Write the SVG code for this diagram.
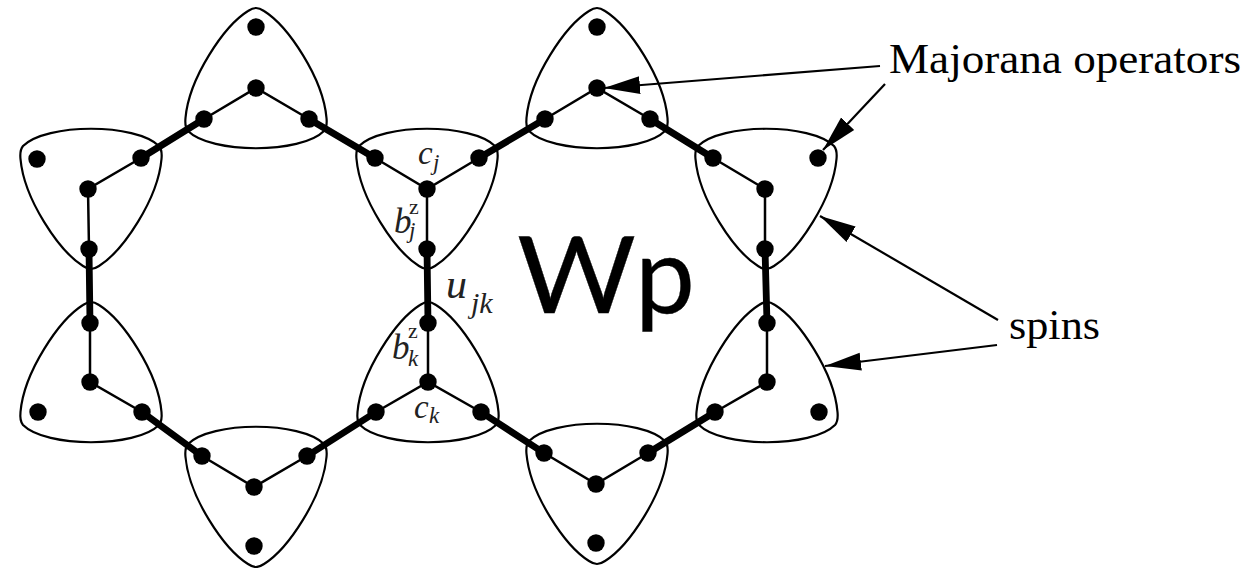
<svg xmlns="http://www.w3.org/2000/svg" width="1250" height="568" viewBox="0 0 1250 568">
<style>
.s{fill:none;stroke:#000;stroke-width:2.2}
.b{stroke:#000;stroke-width:2.5;fill:none}
.t{stroke:#000;stroke-width:6.8;fill:none}
.a{stroke:#000;stroke-width:2.2;fill:none}
.l{font-family:"Liberation Serif",serif;fill:#000}
.i{font-family:"Liberation Serif",serif;font-style:italic;fill:#222}
.w{font-family:Lato,sans-serif;font-size:107px;fill:#000;stroke:#000;stroke-width:.3}
</style>
<defs>
<path id="dn" class="s" d="M0 80C3 80 5 79 8 77C32 62 67 10 70.500 -30C71 -35 70.500 -40 68 -43C45 -66 -45 -66 -68 -43C-70.500 -40 -71 -35 -70.500 -30C-67 10 -32 62 -8 77C-5 79 -3 80 0 80Z"/>
<path id="up" class="s" d="M0 -80C3 -80 5 -79 8 -77C32 -62 67 -10 70.500 30C71 35 70.500 40 68 43C45 66 -45 66 -68 43C-70.500 40 -71 35 -70.500 30C-67 -10 -32 -62 -8 -77C-5 -79 -3 -80 0 -80Z"/>
<circle id="d" r="8.7" fill="#000"/>
<marker id="ah" markerUnits="userSpaceOnUse" markerWidth="38" markerHeight="22" refX="36" refY="11" orient="auto"><path d="M0 2L36 11L0 20Z" fill="#000"/></marker>
</defs>
<g id="connectors">
<path class="b" d="M204 119L256 88L309 119"/>
<path class="b" d="M545 119L597 88L650 119"/>
<path class="b" d="M375 158L427 189L479 158M427 189L427 249"/>
<path class="b" d="M141 158L88 189L89 249"/>
<path class="b" d="M713 158L765 189L765 249"/>
<path class="b" d="M90 323L90 382L142 412"/>
<path class="b" d="M428 323L428 382M376 412L428 382L481 412"/>
<path class="b" d="M767 323L767 382L715 412"/>
<path class="b" d="M202 456L254 487L307 456"/>
<path class="b" d="M544 453L596 484L648 453"/>
<path class="t" d="M141 158L204 119M309 119L375 158M479 158L545 119M650 119L713 158"/>
<path class="t" d="M89 249L90 323M427 249L428 323M765 249L767 323"/>
<path class="t" d="M142 412L202 456M307 456L376 412M481 412L544 453M648 453L715 412"/>
<path class="a" marker-end="url(#ah)" d="M880 66L604 88"/>
<path class="a" marker-end="url(#ah)" d="M885 84L823 150"/>
<path class="a" marker-end="url(#ah)" d="M998 320L820 216"/>
<path class="a" marker-end="url(#ah)" d="M997 345L825 366"/>
</g>
<g id="spin1"><use href="#up" x="256" y="88"/><use href="#d" x="256" y="27"/><use href="#d" x="256" y="88"/><use href="#d" x="204" y="119"/><use href="#d" x="309" y="119"/></g>
<g id="spin2"><use href="#up" x="597" y="88"/><use href="#d" x="597" y="27"/><use href="#d" x="597" y="88"/><use href="#d" x="545" y="119"/><use href="#d" x="650" y="119"/></g>
<g id="spin3"><use href="#dn" x="91" y="189"/><use href="#d" x="37" y="159"/><use href="#d" x="88" y="189"/><use href="#d" x="141" y="158"/><use href="#d" x="89" y="249"/></g>
<g id="spin4"><use href="#dn" x="427" y="189"/><use href="#d" x="427" y="189"/><use href="#d" x="375" y="158"/><use href="#d" x="479" y="158"/><use href="#d" x="427" y="249"/></g>
<g id="spin5"><use href="#dn" x="766" y="189"/><use href="#d" x="765" y="189"/><use href="#d" x="713" y="158"/><use href="#d" x="818" y="158"/><use href="#d" x="765" y="249"/></g>
<g id="spin6"><use href="#up" x="91" y="382"/><use href="#d" x="90" y="323"/><use href="#d" x="90" y="382"/><use href="#d" x="142" y="412"/><use href="#d" x="38" y="412"/></g>
<g id="spin7"><use href="#up" x="428" y="382"/><use href="#d" x="428" y="323"/><use href="#d" x="428" y="382"/><use href="#d" x="376" y="412"/><use href="#d" x="481" y="412"/></g>
<g id="spin8"><use href="#up" x="767" y="382"/><use href="#d" x="767" y="323"/><use href="#d" x="767" y="382"/><use href="#d" x="715" y="412"/><use href="#d" x="819" y="412"/></g>
<g id="spin9"><use href="#dn" x="256" y="487"/><use href="#d" x="254" y="487"/><use href="#d" x="202" y="456"/><use href="#d" x="307" y="456"/><use href="#d" x="254" y="546"/></g>
<g id="spin10"><use href="#dn" x="597" y="484"/><use href="#d" x="596" y="484"/><use href="#d" x="544" y="453"/><use href="#d" x="648" y="453"/><use href="#d" x="596" y="543"/></g>
<g id="labels">
<text class="i" x="418" y="164" font-size="33">c</text><text class="i" x="433" y="170" font-size="23">j</text>
<text class="i" x="394" y="233" font-size="35">b</text><text class="i" x="409" y="214" font-size="22" style="font-style:normal">z</text><text class="i" x="409" y="238" font-size="23">j</text>
<text class="i" x="392" y="359" font-size="35">b</text><text class="i" x="408" y="338" font-size="22" style="font-style:normal">z</text><text class="i" x="408" y="366" font-size="23">k</text>
<text class="i" x="414" y="418" font-size="33">c</text><text class="i" x="429" y="423" font-size="23">k</text>
<text class="i" x="446" y="298" font-size="42">u</text><text class="i" x="471" y="313" font-size="30">jk</text>
<text class="l" x="889" y="72.5" font-size="42" textLength="352" lengthAdjust="spacingAndGlyphs">Majorana operators</text>
<text class="l" x="1009" y="339" font-size="42" textLength="91" lengthAdjust="spacingAndGlyphs">spins</text>
<text class="w" x="517" y="313" textLength="119" lengthAdjust="spacingAndGlyphs">W</text>
<text class="w" x="635" y="313">p</text>
</g>
</svg>
